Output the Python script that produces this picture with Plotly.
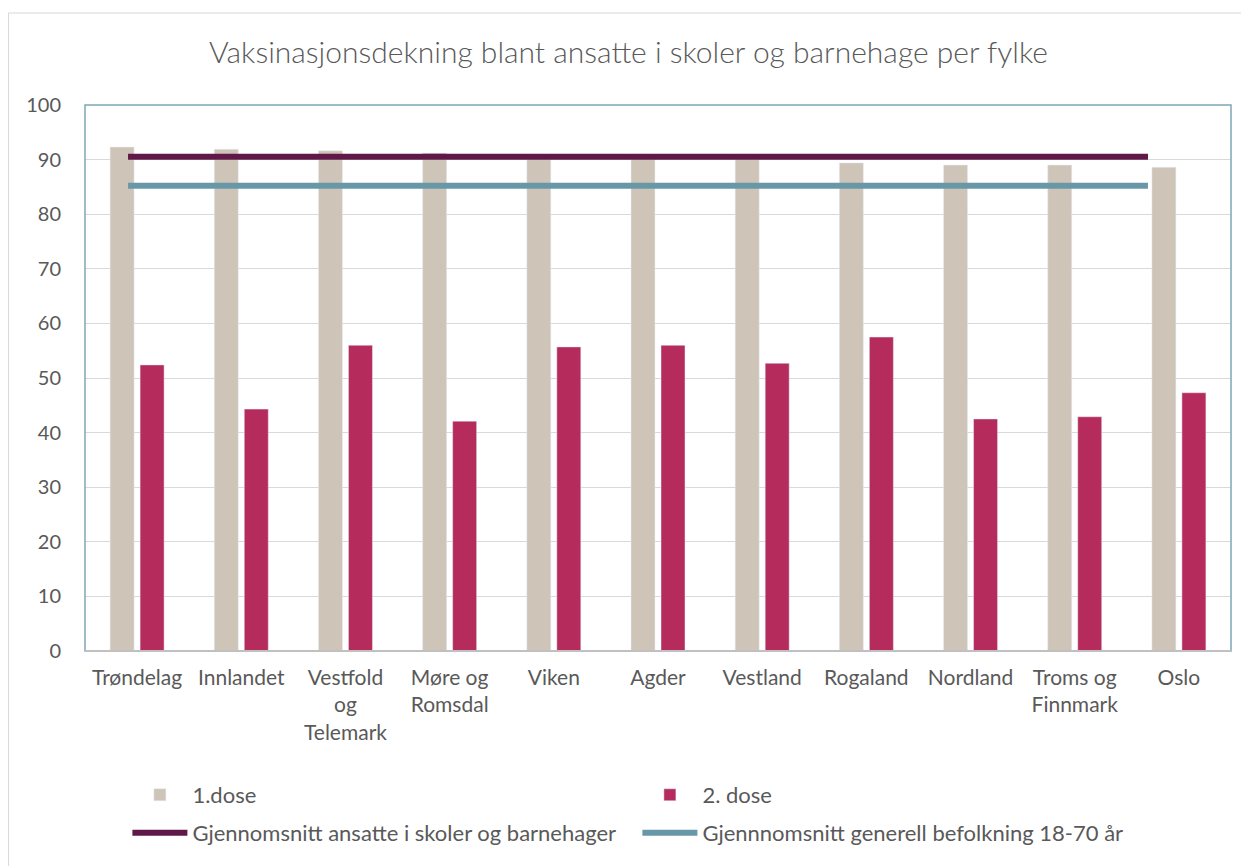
import plotly.graph_objects as go

categories = ["Trøndelag", "Innlandet", "Vestfold<br>og<br>Telemark", "Møre og<br>Romsdal", "Viken",
              "Agder", "Vestland", "Rogaland", "Nordland", "Troms og<br>Finnmark", "Oslo"]
dose1 = [92.3, 91.9, 91.6, 91.2, 90.9, 90.7, 90.2, 89.4, 89.0, 89.0, 88.6]
dose2 = [52.4, 44.3, 56.0, 42.1, 55.7, 56.0, 52.7, 57.5, 42.5, 42.9, 47.3]
avg_staff = 90.5
avg_pop = 85.2
line_x = [0, 1]

TXT = "#595959"
FONT = "Lato"

fig = go.Figure()
fig.add_trace(go.Bar(x=categories, y=dose1, name="1.dose", marker_color="#cfc4b8", legend="legend"))
fig.add_trace(go.Bar(x=categories, y=dose2, name="2. dose", marker_color="#b52b5c", legend="legend"))
fig.add_trace(go.Scatter(x=line_x, y=[avg_staff] * 2, xaxis="x2", mode="lines",
                         name="Gjennomsnitt ansatte i skoler og barnehager",
                         line=dict(color="#5f1848", width=6), legend="legend2"))
fig.add_trace(go.Scatter(x=line_x, y=[avg_pop] * 2, xaxis="x2", mode="lines",
                         name="Gjennnomsnitt generell befolkning 18-70 år",
                         line=dict(color="#6898a8", width=6), legend="legend2"))

leg_common = dict(orientation="h", xanchor="left", yanchor="middle",
                  entrywidth=440, entrywidthmode="pixels", itemwidth=55,
                  font=dict(size=22, color=TXT), traceorder="normal")

fig.update_layout(
    width=1241, height=858,
    paper_bgcolor="white", plot_bgcolor="white",
    margin=dict(l=77, r=18, t=97, b=215),
    font=dict(family=FONT, color=TXT, size=20),
    title=dict(text="Vaksinasjonsdekning blant ansatte i skoler og barnehage per fylke",
               x=0.5, xanchor="center", y=0.9487, yanchor="middle",
               font=dict(size=30, color=TXT, family=FONT, weight=300)),
    bargap=0.424, bargroupgap=0.2,
    showlegend=True,
    legend=dict(x=0.037, y=-0.2637, **leg_common),
    legend2=dict(x=0.037, y=-0.3333, **leg_common),
    xaxis=dict(type="category", showgrid=False, showline=False,
               tickfont=dict(size=21, color=TXT), ticks="", ticklabelstandoff=12),
    xaxis2=dict(overlaying="x", range=[-0.0422, 1.0814], visible=False, fixedrange=True),
    yaxis=dict(range=[0, 100], dtick=10, showgrid=True, gridcolor="#d9d9d9", gridwidth=1,
               showline=False, zeroline=False, tickfont=dict(size=20, color=TXT),
               ticks="", ticklabelstandoff=23),
    shapes=[
        dict(type="rect", xref="paper", yref="paper", x0=0, x1=1, y0=0, y1=1,
             line=dict(color="#7fa6b5", width=1.5), layer="above"),
        dict(type="line", xref="paper", yref="paper", x0=0, x1=1, y0=0, y1=0,
             line=dict(color="#c0c0c0", width=2), layer="above"),
        dict(type="rect", xref="paper", yref="paper", x0=-0.0667, x1=1.1, y0=-0.5, y1=1.1685,
             line=dict(color="#d9d9d9", width=1), layer="below"),
    ],
)

fig.write_html("out.html")
